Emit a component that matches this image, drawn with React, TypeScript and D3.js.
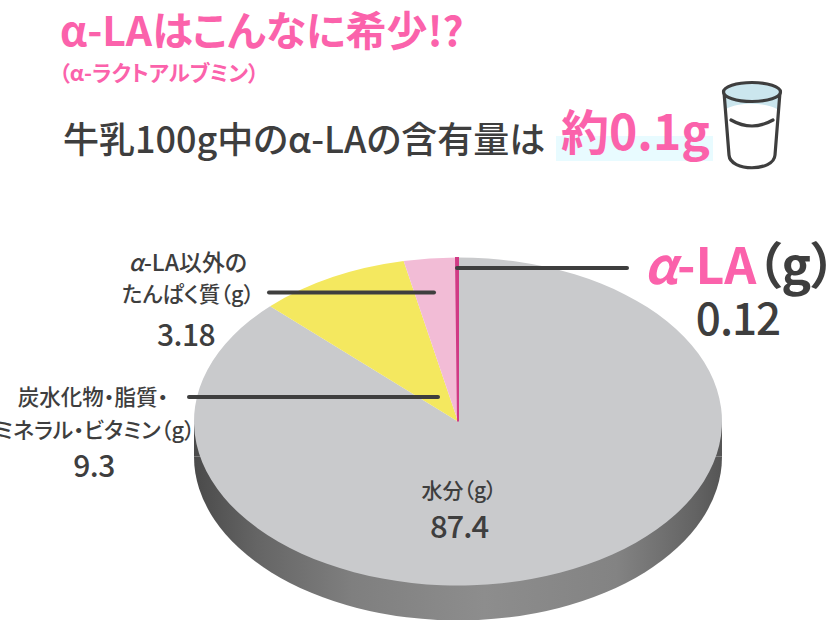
import React from "react";
import * as d3 from "d3";

const sliceNames = ["水分", "炭水化物・脂質・ミネラル・ビタミン", "α-LA以外のたんぱく質", "α-LA"];
const sliceValues = [87.4, 9.3, 3.18, 0.12];
const sliceColors = ["#c9cacc", "#f4e85f", "#f2bcd6", "#d13a85"];

const PINK = "#fb62ab";
const DARK = "#3e3e3e";
const FONT = "'Noto Sans CJK JP', 'Noto Sans', sans-serif";
const palt = { fontFeatureSettings: "'palt'" };

const cx = 458, cy = 421.5, rx = 264, ry = 164, depth = 35;

export default function App() {
  const pie = d3.pie<number>().sort(null).startAngle(0).endAngle(2 * Math.PI);
  const arcs = pie(sliceValues);
  const arc = d3.arc<d3.PieArcDatum<number>>().innerRadius(0).outerRadius(rx);
  const wall = d3.arc()({ innerRadius: 0, outerRadius: rx, startAngle: Math.PI / 2, endAngle: (3 * Math.PI) / 2 }) as string;

  return (
    <svg width={830} height={620} viewBox="0 0 830 620"
      style={{ position: "absolute", left: 0, top: 0, fontFamily: FONT }}>
      <defs>
        <linearGradient id="wall" x1="0" x2="1" y1="0" y2="0">
          <stop offset="0" stopColor="#4a4a4a" />
          <stop offset="0.12" stopColor="#656565" />
          <stop offset="0.3" stopColor="#7f7f7f" />
          <stop offset="0.55" stopColor="#8d8d8d" />
          <stop offset="0.8" stopColor="#838383" />
          <stop offset="0.95" stopColor="#636363" />
          <stop offset="1" stopColor="#555555" />
        </linearGradient>
      </defs>
      <rect width={830} height={620} fill="#fff" />

      <text x={60} y={46} fontSize={41} fontWeight={700} fill={PINK} style={palt}>α-LAはこんなに希少!?</text>
      <text x={59} y={81} fontSize={21.5} fontWeight={700} fill={PINK} style={palt}>（α-ラクトアルブミン）</text>
      <text x={63} y={153} fontSize={36} fontWeight={500} fill={DARK} style={palt}>牛乳100g中のα-LAの含有量は</text>
      <rect x={556} y={136} width={157} height={25} fill="#e8fbff" />
      <text x={561} y={150} fontSize={48} fontWeight={700} fill={PINK} style={palt}>約0.1g</text>

      <g fill="none" stroke={DARK} strokeWidth={3.2} strokeLinecap="round" strokeLinejoin="round">
        <path d="M724 92 C724 105 780 105 780 92 L777 109 C765 102 738 102 726 109 Z" fill="#cbe6ee" stroke="none" />
        <path d="M724 92 L729 155 C730 172 774 172 775 155 L780 92" />
        <ellipse cx={752} cy={92} rx={28.5} ry={9.5} fill="#cbe6ee" />
        <path d="M731 120 C745 128 759 128 773 120" />
      </g>

      <path d={wall} transform={`translate(${cx},${cy + depth}) scale(1,${ry / rx})`} fill="url(#wall)" />
      <rect x={cx - rx} y={cy} width={rx * 2} height={depth} fill="url(#wall)" />
      <g transform={`translate(${cx},${cy}) scale(1,${ry / rx})`}>
        {arcs.map((a, i) => (
          <path key={sliceNames[i]} d={arc(a) as string} fill={sliceColors[i]}
            stroke={i === 3 ? sliceColors[i] : "none"} strokeWidth={i === 3 ? 2 : 0} />
        ))}
      </g>

      <g stroke={DARK} strokeWidth={4} strokeLinecap="round">
        <line x1={457} y1={268} x2={627} y2={268} />
        <line x1={269} y1={292.5} x2={434} y2={292.5} />
        <line x1={189} y1={397} x2={438} y2={397} />
      </g>

      <g fill={DARK} textAnchor="middle" fontWeight={500} style={palt}>
        <text x={188} y={271} fontSize={23}><tspan fontStyle="italic">α</tspan>-LA以外の</text>
        <text x={188} y={302} fontSize={21.5}>たんぱく質（g）</text>
        <text x={186} y={346} fontSize={30} letterSpacing={-0.5}>3.18</text>
        <text x={93} y={405} fontSize={21.5}>炭水化物・脂質・</text>
        <text x={95} y={438} fontSize={21.8}>ミネラル・ビタミン（g）</text>
        <text x={94} y={477} fontSize={30} letterSpacing={-0.5}>9.3</text>
        <text x={459} y={498} fontSize={21}>水分（g）</text>
        <text x={459} y={538} fontSize={31} letterSpacing={-1}>87.4</text>
        <text x={738} y={335} fontSize={44} letterSpacing={-1}>0.12</text>
        <text x={740} y={284} fontSize={50} fontWeight={600}>
          <tspan fill={PINK} fontStyle="italic">α</tspan>
          <tspan fill={PINK}>-LA</tspan>
          <tspan>（g）</tspan>
        </text>
      </g>
    </svg>
  );
}
